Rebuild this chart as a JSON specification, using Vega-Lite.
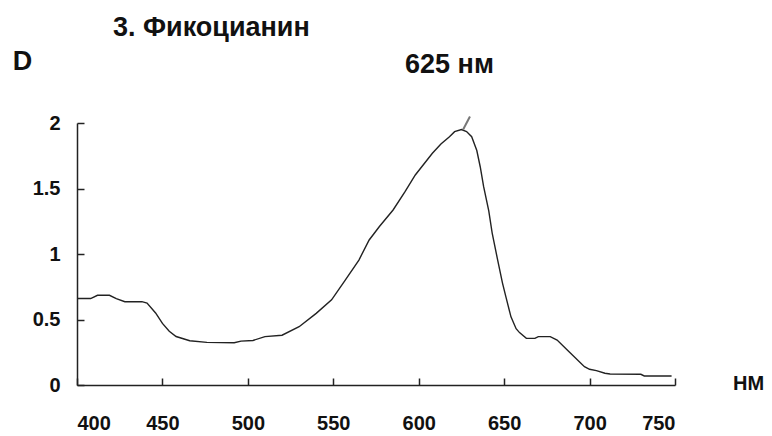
{
  "$schema": "https://vega.github.io/schema/vega-lite/v6.json",
  "autosize": "none",
  "width": 598,
  "height": 262,
  "padding": {"left": 77, "top": 123, "right": 97, "bottom": 51},
  "background": "white",
  "title": {
    "text": "3. Фикоцианин",
    "anchor": "start",
    "frame": "group",
    "dx": 36,
    "offset": 5,
    "font": "Liberation Sans",
    "fontSize": 27,
    "fontWeight": "bold",
    "color": "#111"
  },
  "config": {
    "view": {"stroke": null},
    "axis": {
      "grid": false,
      "domainColor": "#222",
      "domainWidth": 1.5,
      "tickColor": "#222",
      "tickWidth": 1.5,
      "labelFont": "Liberation Sans Narrow, Liberation Sans",
      "labelFontWeight": "bold",
      "labelFontSize": 20,
      "labelColor": "#111",
      "titleFont": "Liberation Sans",
      "titleFontWeight": "bold",
      "titleColor": "#111"
    }
  },
  "datasets": {
    "spectrum": [
      {"nm": 400, "D": 0.66}, {"nm": 408, "D": 0.66}, {"nm": 412, "D": 0.685}, {"nm": 419, "D": 0.685},
      {"nm": 423, "D": 0.66}, {"nm": 428, "D": 0.636}, {"nm": 438, "D": 0.636}, {"nm": 441, "D": 0.625},
      {"nm": 446, "D": 0.55}, {"nm": 450, "D": 0.47}, {"nm": 454, "D": 0.41}, {"nm": 458, "D": 0.37},
      {"nm": 466, "D": 0.338}, {"nm": 476, "D": 0.325}, {"nm": 492, "D": 0.323}, {"nm": 496, "D": 0.335},
      {"nm": 503, "D": 0.34}, {"nm": 510, "D": 0.369}, {"nm": 520, "D": 0.38}, {"nm": 530, "D": 0.445},
      {"nm": 540, "D": 0.547}, {"nm": 549, "D": 0.65}, {"nm": 557, "D": 0.8}, {"nm": 565, "D": 0.954},
      {"nm": 571, "D": 1.107}, {"nm": 577, "D": 1.21}, {"nm": 585, "D": 1.336}, {"nm": 592, "D": 1.476},
      {"nm": 598, "D": 1.603}, {"nm": 608, "D": 1.769}, {"nm": 613, "D": 1.84}, {"nm": 618, "D": 1.895},
      {"nm": 621, "D": 1.934}, {"nm": 625, "D": 1.95}, {"nm": 628, "D": 1.935}, {"nm": 631, "D": 1.895},
      {"nm": 634, "D": 1.79}, {"nm": 636, "D": 1.666}, {"nm": 638, "D": 1.514}, {"nm": 641, "D": 1.33},
      {"nm": 643, "D": 1.16}, {"nm": 646, "D": 0.967}, {"nm": 649, "D": 0.78}, {"nm": 651, "D": 0.674},
      {"nm": 654, "D": 0.52}, {"nm": 657, "D": 0.43}, {"nm": 659, "D": 0.4}, {"nm": 663, "D": 0.356},
      {"nm": 668, "D": 0.356}, {"nm": 670, "D": 0.369}, {"nm": 677, "D": 0.369}, {"nm": 681, "D": 0.343},
      {"nm": 688, "D": 0.254}, {"nm": 697, "D": 0.14}, {"nm": 700, "D": 0.12}, {"nm": 704, "D": 0.11},
      {"nm": 709, "D": 0.09}, {"nm": 712, "D": 0.084}, {"nm": 730, "D": 0.082}, {"nm": 732, "D": 0.069},
      {"nm": 748, "D": 0.069}
    ],
    "peak": [{"nm": 626, "D": 1.95, "nm2": 630, "D2": 2.05}],
    "label": [{"nm": 618, "D": 2.44, "text": "625 нм"}]
  },
  "layer": [
    {
      "data": {"name": "spectrum"},
      "mark": {"type": "line", "color": "#222", "strokeWidth": 1.4, "clip": false},
      "encoding": {
        "x": {
          "field": "nm", "type": "quantitative",
          "scale": {"domain": [400, 750], "nice": false, "zero": false},
          "axis": {
            "values": [400, 450, 500, 550, 600, 650, 700, 750],
            "tickSize": -7,
            "labelPadding": 35,
            "labelBaseline": "top",
            "title": "НМ",
            "titleFontSize": 20,
            "titleAngle": 0,
            "titleX": 671,
            "titleY": -2,
            "titleAlign": "center",
            "titleBaseline": "middle"
          }
        },
        "y": {
          "field": "D", "type": "quantitative",
          "scale": {"domain": [0, 2], "nice": false},
          "axis": {
            "values": [0, 0.5, 1, 1.5, 2],
            "format": "~g",
            "tickSize": -7,
            "labelPadding": 24,
            "title": "D",
            "titleFontSize": 27,
            "titleAngle": 0,
            "titleX": -55,
            "titleY": -62,
            "titleAlign": "center",
            "titleBaseline": "middle"
          }
        }
      }
    },
    {
      "data": {"name": "peak"},
      "mark": {"type": "rule", "color": "#777", "strokeWidth": 2, "clip": false},
      "encoding": {
        "x": {"field": "nm", "type": "quantitative"},
        "y": {"field": "D", "type": "quantitative"},
        "x2": {"field": "nm2"},
        "y2": {"field": "D2"}
      }
    },
    {
      "data": {"name": "label"},
      "mark": {"type": "text", "font": "Liberation Sans", "fontSize": 27, "fontWeight": "bold", "color": "#111", "baseline": "middle", "align": "center", "clip": false},
      "encoding": {
        "x": {"field": "nm", "type": "quantitative"},
        "y": {"field": "D", "type": "quantitative"},
        "text": {"field": "text"}
      }
    }
  ]
}
